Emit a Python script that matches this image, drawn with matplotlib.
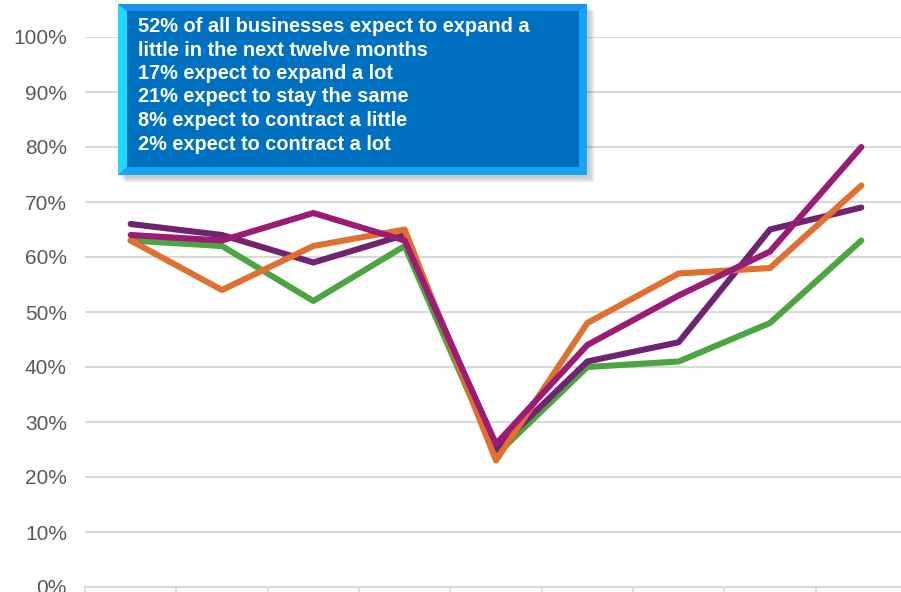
import matplotlib.pyplot as plt
from matplotlib.patches import Rectangle, Polygon
from matplotlib.ticker import FuncFormatter

plt.rcParams["font.family"] = ["Liberation Sans", "DejaVu Sans"]

# データ (9 periods)
periods = list(range(9))
green = [63, 62, 52, 62, 24, 40, 41, 48, 63]
dark_purple = [66, 64, 59, 64, 25, 41, 44.5, 65, 69]
orange = [63, 54, 62, 65, 23, 48, 57, 58, 73]
magenta = [64, 63, 68, 63, 26, 44, 53, 61, 80]

box_lines = [
    "52% of all businesses expect to expand a",
    "little in the next twelve months",
    "17% expect to expand a lot",
    "21% expect to stay the same",
    "8% expect to contract a little",
    "2% expect to contract a lot",
]

W, H = 901, 592
fig = plt.figure(figsize=(W / 100, H / 100), dpi=100)
ax = fig.add_axes([85 / W, 5 / H, 822 / W, 550 / H])

ax.plot(periods, green, color="#4CA540", lw=4.4, solid_capstyle="round", zorder=3)
ax.plot(periods, dark_purple, color="#6E2470", lw=4.4, solid_capstyle="round", zorder=4)
ax.plot(periods, orange, color="#E07032", lw=4.4, solid_capstyle="round", zorder=5)
ax.plot(periods, magenta, color="#9A1C74", lw=4.4, solid_capstyle="round", zorder=6)

ax.set_xlim(-0.5, 8.5)
ax.set_ylim(0, 100)
ax.set_yticks(range(0, 101, 10))
ax.yaxis.set_major_formatter(FuncFormatter(lambda v, p: f"{int(v)}%"))
ax.set_xticks([i - 0.5 for i in range(10)])
ax.set_xticklabels([])
ax.grid(axis="y", color="#D9D9D9", lw=1.5, zorder=0)
for s in ["top", "right", "left"]:
    ax.spines[s].set_visible(False)
ax.spines["bottom"].set_color("#D9D9D9")
ax.spines["bottom"].set_linewidth(1.5)
ax.tick_params(axis="y", length=0, labelsize=15, labelcolor="#595959", pad=13)
ax.tick_params(axis="x", length=6, color="#D9D9D9", width=1.2)

# テキストボックス (pixel coords -> figure coords)
def fx(x):
    return x / W


def fy(y):
    return 1 - y / H


x0, y0, x1, y1 = 118, 4, 587, 175
ix0, iy0, ix1, iy1 = 127, 11, 579, 167
for k, a in enumerate([0.05, 0.07, 0.09]):
    off = 3 + k * 2
    fig.patches.append(Rectangle((fx(x0 + off), fy(y1 + off)), fx(x1 - x0), (y1 - y0) / H,
                                 transform=fig.transFigure, color="#000000", alpha=a,
                                 lw=0, zorder=9))
fig.patches.append(Rectangle((fx(x0), fy(y1)), fx(x1 - x0), (y1 - y0) / H,
                             transform=fig.transFigure, color="#1AA3F5", lw=0, zorder=10))
# 上のベベル
fig.patches.append(Polygon([(fx(x0), fy(y0)), (fx(x1), fy(y0)), (fx(ix1), fy(iy0)), (fx(ix0), fy(iy0))],
                           closed=True, transform=fig.transFigure, color="#1B93EC", lw=0, zorder=11))
# 左のベベル
fig.patches.append(Polygon([(fx(x0), fy(y0)), (fx(ix0), fy(iy0)), (fx(ix0), fy(iy1)), (fx(x0), fy(y1))],
                           closed=True, transform=fig.transFigure, color="#22D6FF", lw=0, zorder=11))
fig.patches.append(Rectangle((fx(ix0), fy(iy1)), fx(ix1 - ix0), (iy1 - iy0) / H,
                             transform=fig.transFigure, color="#0070C0", lw=0, zorder=12))
fig.text(fx(138), fy(17), "\n".join(box_lines), color="white", fontsize=14.4,
         fontweight="bold", va="top", ha="left", linespacing=1.30, zorder=13)

fig.savefig("out.png", dpi=100)
